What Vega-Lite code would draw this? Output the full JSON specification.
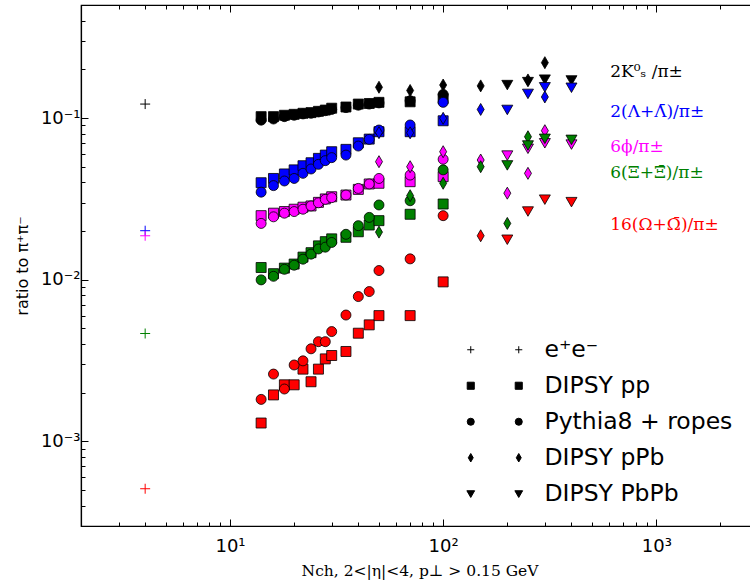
{
  "$schema": "https://vega.github.io/schema/vega-lite/v6.json",
  "width": 677,
  "height": 521,
  "autosize": {"type": "none"},
  "padding": {"left": 81, "top": 5, "right": 0, "bottom": 57},
  "background": "white",
  "config": {"view": {"stroke": "black", "strokeWidth": 1.2}, "font": "DejaVu Sans"},
  "datasets": {
    "pts": [
      {"N":4,"r":0.122,"set":"ee","sp":"K"},
      {"N":4,"r":0.0201,"set":"ee","sp":"L"},
      {"N":4,"r":0.0187,"set":"ee","sp":"phi"},
      {"N":4,"r":0.00465,"set":"ee","sp":"Xi"},
      {"N":4,"r":0.00051,"set":"ee","sp":"Om"},

      {"N":14,"r":0.102,"set":"pp","sp":"K"},{"N":16,"r":0.102,"set":"pp","sp":"K"},{"N":18,"r":0.104,"set":"pp","sp":"K"},{"N":20,"r":0.1054,"set":"pp","sp":"K"},{"N":22,"r":0.107,"set":"pp","sp":"K"},{"N":24,"r":0.108,"set":"pp","sp":"K"},{"N":26,"r":0.110,"set":"pp","sp":"K"},{"N":28,"r":0.112,"set":"pp","sp":"K"},{"N":30,"r":0.115,"set":"pp","sp":"K"},{"N":35,"r":0.117,"set":"pp","sp":"K"},{"N":40,"r":0.122,"set":"pp","sp":"K"},{"N":45,"r":0.123,"set":"pp","sp":"K"},{"N":50,"r":0.125,"set":"pp","sp":"K"},{"N":70,"r":0.126,"set":"pp","sp":"K"},{"N":100,"r":0.132,"set":"pp","sp":"K"},
      {"N":14,"r":0.097,"set":"rope","sp":"K"},{"N":16,"r":0.0986,"set":"rope","sp":"K"},{"N":18,"r":0.102,"set":"rope","sp":"K"},{"N":20,"r":0.104,"set":"rope","sp":"K"},{"N":22,"r":0.106,"set":"rope","sp":"K"},{"N":24,"r":0.107,"set":"rope","sp":"K"},{"N":26,"r":0.109,"set":"rope","sp":"K"},{"N":28,"r":0.111,"set":"rope","sp":"K"},{"N":30,"r":0.113,"set":"rope","sp":"K"},{"N":35,"r":0.116,"set":"rope","sp":"K"},{"N":40,"r":0.120,"set":"rope","sp":"K"},{"N":45,"r":0.122,"set":"rope","sp":"K"},{"N":50,"r":0.124,"set":"rope","sp":"K"},{"N":70,"r":0.128,"set":"rope","sp":"K"},{"N":100,"r":0.140,"set":"rope","sp":"K"},
      {"N":50,"r":0.155,"set":"pPb","sp":"K"},{"N":70,"r":0.148,"set":"pPb","sp":"K"},{"N":100,"r":0.160,"set":"pPb","sp":"K"},{"N":150,"r":0.158,"set":"pPb","sp":"K"},{"N":250,"r":0.172,"set":"pPb","sp":"K"},{"N":300,"r":0.220,"set":"pPb","sp":"K"},
      {"N":200,"r":0.161,"set":"PbPb","sp":"K"},{"N":250,"r":0.168,"set":"PbPb","sp":"K"},{"N":300,"r":0.174,"set":"PbPb","sp":"K"},{"N":400,"r":0.172,"set":"PbPb","sp":"K"},

      {"N":14,"r":0.0398,"set":"pp","sp":"L"},{"N":16,"r":0.0423,"set":"pp","sp":"L"},{"N":18,"r":0.0451,"set":"pp","sp":"L"},{"N":20,"r":0.0478,"set":"pp","sp":"L"},{"N":22,"r":0.0507,"set":"pp","sp":"L"},{"N":24,"r":0.0529,"set":"pp","sp":"L"},{"N":26,"r":0.0563,"set":"pp","sp":"L"},{"N":28,"r":0.0590,"set":"pp","sp":"L"},{"N":30,"r":0.0619,"set":"pp","sp":"L"},{"N":35,"r":0.0640,"set":"pp","sp":"L"},{"N":40,"r":0.0703,"set":"pp","sp":"L"},{"N":45,"r":0.0741,"set":"pp","sp":"L"},{"N":50,"r":0.0823,"set":"pp","sp":"L"},{"N":70,"r":0.0823,"set":"pp","sp":"L"},{"N":100,"r":0.0962,"set":"pp","sp":"L"},
      {"N":14,"r":0.0348,"set":"rope","sp":"L"},{"N":16,"r":0.0382,"set":"rope","sp":"L"},{"N":18,"r":0.0408,"set":"rope","sp":"L"},{"N":20,"r":0.0423,"set":"rope","sp":"L"},{"N":22,"r":0.0455,"set":"rope","sp":"L"},{"N":24,"r":0.0484,"set":"rope","sp":"L"},{"N":26,"r":0.0517,"set":"rope","sp":"L"},{"N":28,"r":0.0545,"set":"rope","sp":"L"},{"N":30,"r":0.0569,"set":"rope","sp":"L"},{"N":35,"r":0.0590,"set":"rope","sp":"L"},{"N":40,"r":0.0671,"set":"rope","sp":"L"},{"N":45,"r":0.0738,"set":"rope","sp":"L"},{"N":50,"r":0.0843,"set":"rope","sp":"L"},{"N":70,"r":0.0906,"set":"rope","sp":"L"},{"N":100,"r":0.125,"set":"rope","sp":"L"},
      {"N":50,"r":0.0812,"set":"pPb","sp":"L"},{"N":70,"r":0.081,"set":"pPb","sp":"L"},{"N":100,"r":0.0996,"set":"pPb","sp":"L"},{"N":150,"r":0.113,"set":"pPb","sp":"L"},{"N":300,"r":0.135,"set":"pPb","sp":"L"},
      {"N":200,"r":0.113,"set":"PbPb","sp":"L"},{"N":250,"r":0.142,"set":"PbPb","sp":"L"},{"N":300,"r":0.156,"set":"PbPb","sp":"L"},{"N":400,"r":0.155,"set":"PbPb","sp":"L"},

      {"N":14,"r":0.0249,"set":"pp","sp":"phi"},{"N":16,"r":0.0258,"set":"pp","sp":"phi"},{"N":18,"r":0.0264,"set":"pp","sp":"phi"},{"N":20,"r":0.0273,"set":"pp","sp":"phi"},{"N":22,"r":0.0281,"set":"pp","sp":"phi"},{"N":24,"r":0.0286,"set":"pp","sp":"phi"},{"N":26,"r":0.0301,"set":"pp","sp":"phi"},{"N":28,"r":0.0316,"set":"pp","sp":"phi"},{"N":30,"r":0.0326,"set":"pp","sp":"phi"},{"N":35,"r":0.0334,"set":"pp","sp":"phi"},{"N":40,"r":0.0362,"set":"pp","sp":"phi"},{"N":45,"r":0.0391,"set":"pp","sp":"phi"},{"N":50,"r":0.0395,"set":"pp","sp":"phi"},{"N":70,"r":0.0404,"set":"pp","sp":"phi"},{"N":100,"r":0.0434,"set":"pp","sp":"phi"},
      {"N":14,"r":0.0223,"set":"rope","sp":"phi"},{"N":16,"r":0.0245,"set":"rope","sp":"phi"},{"N":18,"r":0.0258,"set":"rope","sp":"phi"},{"N":20,"r":0.0264,"set":"rope","sp":"phi"},{"N":22,"r":0.0273,"set":"rope","sp":"phi"},{"N":24,"r":0.0286,"set":"rope","sp":"phi"},{"N":26,"r":0.0299,"set":"rope","sp":"phi"},{"N":28,"r":0.0314,"set":"rope","sp":"phi"},{"N":30,"r":0.0322,"set":"rope","sp":"phi"},{"N":35,"r":0.0334,"set":"rope","sp":"phi"},{"N":40,"r":0.0367,"set":"rope","sp":"phi"},{"N":45,"r":0.0391,"set":"rope","sp":"phi"},{"N":50,"r":0.0423,"set":"rope","sp":"phi"},{"N":70,"r":0.0444,"set":"rope","sp":"phi"},{"N":100,"r":0.0556,"set":"rope","sp":"phi"},
      {"N":50,"r":0.0537,"set":"pPb","sp":"phi"},{"N":70,"r":0.050,"set":"pPb","sp":"phi"},{"N":100,"r":0.0619,"set":"pPb","sp":"phi"},{"N":150,"r":0.055,"set":"pPb","sp":"phi"},{"N":200,"r":0.0343,"set":"pPb","sp":"phi"},{"N":250,"r":0.0455,"set":"pPb","sp":"phi"},{"N":300,"r":0.0835,"set":"pPb","sp":"phi"},
      {"N":200,"r":0.059,"set":"PbPb","sp":"phi"},{"N":250,"r":0.065,"set":"PbPb","sp":"phi"},{"N":300,"r":0.0703,"set":"PbPb","sp":"phi"},{"N":400,"r":0.069,"set":"PbPb","sp":"phi"},

      {"N":14,"r":0.0119,"set":"pp","sp":"Xi"},{"N":16,"r":0.0109,"set":"pp","sp":"Xi"},{"N":18,"r":0.0118,"set":"pp","sp":"Xi"},{"N":20,"r":0.0125,"set":"pp","sp":"Xi"},{"N":22,"r":0.0138,"set":"pp","sp":"Xi"},{"N":24,"r":0.0147,"set":"pp","sp":"Xi"},{"N":26,"r":0.0162,"set":"pp","sp":"Xi"},{"N":28,"r":0.0172,"set":"pp","sp":"Xi"},{"N":30,"r":0.0179,"set":"pp","sp":"Xi"},{"N":35,"r":0.0183,"set":"pp","sp":"Xi"},{"N":40,"r":0.0198,"set":"pp","sp":"Xi"},{"N":45,"r":0.0218,"set":"pp","sp":"Xi"},{"N":50,"r":0.0232,"set":"pp","sp":"Xi"},{"N":70,"r":0.0254,"set":"pp","sp":"Xi"},{"N":100,"r":0.0294,"set":"pp","sp":"Xi"},
      {"N":14,"r":0.00998,"set":"rope","sp":"Xi"},{"N":16,"r":0.0105,"set":"rope","sp":"Xi"},{"N":18,"r":0.0116,"set":"rope","sp":"Xi"},{"N":20,"r":0.0123,"set":"rope","sp":"Xi"},{"N":22,"r":0.0134,"set":"rope","sp":"Xi"},{"N":24,"r":0.0144,"set":"rope","sp":"Xi"},{"N":26,"r":0.0155,"set":"rope","sp":"Xi"},{"N":28,"r":0.0159,"set":"rope","sp":"Xi"},{"N":30,"r":0.0170,"set":"rope","sp":"Xi"},{"N":35,"r":0.0191,"set":"rope","sp":"Xi"},{"N":40,"r":0.0216,"set":"rope","sp":"Xi"},{"N":45,"r":0.0243,"set":"rope","sp":"Xi"},{"N":50,"r":0.029,"set":"rope","sp":"Xi"},{"N":70,"r":0.0308,"set":"rope","sp":"Xi"},{"N":100,"r":0.0478,"set":"rope","sp":"Xi"},
      {"N":50,"r":0.0197,"set":"pPb","sp":"Xi"},{"N":70,"r":0.0331,"set":"pPb","sp":"Xi"},{"N":100,"r":0.0395,"set":"pPb","sp":"Xi"},{"N":150,"r":0.050,"set":"pPb","sp":"Xi"},{"N":200,"r":0.0223,"set":"pPb","sp":"Xi"},{"N":250,"r":0.0766,"set":"pPb","sp":"Xi"},
      {"N":200,"r":0.0513,"set":"PbPb","sp":"Xi"},{"N":250,"r":0.0681,"set":"PbPb","sp":"Xi"},{"N":300,"r":0.0749,"set":"PbPb","sp":"Xi"},{"N":400,"r":0.0738,"set":"PbPb","sp":"Xi"},

      {"N":14,"r":0.0013,"set":"pp","sp":"Om"},{"N":16,"r":0.00194,"set":"pp","sp":"Om"},{"N":18,"r":0.00224,"set":"pp","sp":"Om"},{"N":20,"r":0.00224,"set":"pp","sp":"Om"},{"N":22,"r":0.0028,"set":"pp","sp":"Om"},{"N":24,"r":0.00234,"set":"pp","sp":"Om"},{"N":26,"r":0.0028,"set":"pp","sp":"Om"},{"N":28,"r":0.00324,"set":"pp","sp":"Om"},{"N":30,"r":0.0034,"set":"pp","sp":"Om"},{"N":35,"r":0.0036,"set":"pp","sp":"Om"},{"N":40,"r":0.00467,"set":"pp","sp":"Om"},{"N":45,"r":0.00526,"set":"pp","sp":"Om"},{"N":50,"r":0.006,"set":"pp","sp":"Om"},{"N":70,"r":0.006,"set":"pp","sp":"Om"},{"N":100,"r":0.0097,"set":"pp","sp":"Om"},
      {"N":14,"r":0.00182,"set":"rope","sp":"Om"},{"N":16,"r":0.00261,"set":"rope","sp":"Om"},{"N":18,"r":0.00211,"set":"rope","sp":"Om"},{"N":20,"r":0.00297,"set":"rope","sp":"Om"},{"N":22,"r":0.00315,"set":"rope","sp":"Om"},{"N":24,"r":0.00374,"set":"rope","sp":"Om"},{"N":26,"r":0.00414,"set":"rope","sp":"Om"},{"N":28,"r":0.00414,"set":"rope","sp":"Om"},{"N":30,"r":0.00478,"set":"rope","sp":"Om"},{"N":35,"r":0.00605,"set":"rope","sp":"Om"},{"N":40,"r":0.00787,"set":"rope","sp":"Om"},{"N":45,"r":0.00845,"set":"rope","sp":"Om"},{"N":50,"r":0.0114,"set":"rope","sp":"Om"},{"N":70,"r":0.01346,"set":"rope","sp":"Om"},{"N":100,"r":0.0249,"set":"rope","sp":"Om"},
      {"N":150,"r":0.0187,"set":"pPb","sp":"Om"},
      {"N":200,"r":0.0178,"set":"PbPb","sp":"Om"},{"N":250,"r":0.0266,"set":"PbPb","sp":"Om"},{"N":300,"r":0.0315,"set":"PbPb","sp":"Om"},{"N":400,"r":0.0304,"set":"PbPb","sp":"Om"}
    ],
    "lab": [
      {"N":608,"r":0.192,"t":"2K⁰ₛ /π±","sp":"K"},
      {"N":608,"r":0.109,"t":"2(Λ+Λ̄)/π±","sp":"L"},
      {"N":608,"r":0.0665,"t":"6ϕ/π±","sp":"phi"},
      {"N":608,"r":0.0455,"t":"6(Ξ+Ξ̄)/π±","sp":"Xi"},
      {"N":608,"r":0.0218,"t":"16(Ω+Ω̄)/π±","sp":"Om"}
    ]
  },
  "layer": [
    {
      "data": {"name": "pts"},
      "transform": [{"filter": "datum.set === 'ee'"}],
      "mark": {"type": "point", "filled": true, "strokeWidth": 1, "size": 100, "opacity": 1},
      "encoding": {
        "x": {"field": "N", "type": "quantitative",
          "scale": {"type": "log", "domain": [2, 3000], "nice": false, "zero": false},
          "axis": {"orient": "bottom", "grid": false, "values": [3,4,5,6,7,8,9,10,20,30,40,50,60,70,80,90,100,200,300,400,500,600,700,800,900,1000,2000],
            "labelExpr": "datum.value == 10 ? '10¹' : datum.value == 100 ? '10²' : datum.value == 1000 ? '10³' : ''",
            "tickSize": {"condition": {"test": "datum.value == 10 || datum.value == 100 || datum.value == 1000", "value": -7}, "value": -4},
            "tickColor": "black", "tickWidth": 1, "domainColor": "black", "domainWidth": 1.2,
            "labelFontSize": 18, "labelColor": "black", "labelFont": "DejaVu Sans", "labelPadding": 18, "labelOverlap": false, "labelFlush": false,
            "title": "Nch, 2<|η|<4, p⊥ > 0.15 GeV", "titleFont": "DejaVu Serif", "titleFontSize": 15.5, "titleFontWeight": "normal", "titleColor": "black", "titlePadding": 5}},
        "y": {"field": "r", "type": "quantitative",
          "scale": {"type": "log", "domain": [0.0003, 0.5], "nice": false, "zero": false},
          "axis": {"orient": "left", "grid": false, "values": [0.0004,0.0005,0.0006,0.0007,0.0008,0.0009,0.001,0.002,0.003,0.004,0.005,0.006,0.007,0.008,0.009,0.01,0.02,0.03,0.04,0.05,0.06,0.07,0.08,0.09,0.1,0.2,0.3,0.4],
            "labelExpr": "datum.value == 0.1 ? '10⁻¹' : datum.value == 0.01 ? '10⁻²' : datum.value == 0.001 ? '10⁻³' : ''",
            "tickSize": {"condition": {"test": "datum.value == 0.1 || datum.value == 0.01 || datum.value == 0.001", "value": -7}, "value": -4},
            "tickColor": "black", "tickWidth": 1, "domainColor": "black", "domainWidth": 1.2,
            "labelFontSize": 18, "labelColor": "black", "labelFont": "DejaVu Sans", "labelPadding": 8, "labelOverlap": false, "labelFlush": false,
            "title": "ratio to π⁺π⁻", "titleFont": "DejaVu Sans", "titleFontSize": 16, "titleFontWeight": "normal", "titleColor": "black", "titlePadding": 10}},
        "shape": {"field": "set", "type": "nominal",
          "scale": {"domain": ["ee","pp","rope","pPb","PbPb"], "range": ["M-1,0H1M0,-1V1", "M-1,-1H1V1H-1Z", "circle", "M0,-1.2L0.7,0L0,1.2L-0.7,0Z", "M-1.1,-0.85L1.1,-0.85L0,1.05Z"]},
          "legend": {"orient": "none", "legendX": 426, "legendY": 333, "title": null, "padding": 0,
            "labelFontSize": 23.5, "labelFont": "DejaVu Sans", "labelColor": "black", "labelLimit": 400, "symbolSize": 50, "rowPadding": 11, "labelOffset": 14,
            "symbolFillColor": "black", "symbolStrokeColor": "black", "symbolStrokeWidth": 1, "symbolOpacity": 1,
            "labelExpr": "datum.value == 'ee' ? 'e⁺e⁻' : datum.value == 'pp' ? 'DIPSY pp' : datum.value == 'rope' ? 'Pythia8 + ropes' : datum.value == 'pPb' ? 'DIPSY pPb' : 'DIPSY PbPb'",
            "encode": {"symbols": {"update": {"fill": {"value": "black"}, "stroke": {"value": "black"}, "strokeWidth": {"value": 1}, "opacity": {"value": 1}}}}}},
        "fill": {"field": "sp", "type": "nominal",
          "scale": {"domain": ["K","L","phi","Xi","Om"], "range": ["#000000","#0000ff","#ff00ff","#008000","#ff0000"]}, "legend": null},
        "stroke": {"field": "sp", "type": "nominal",
          "scale": {"domain": ["K","L","phi","Xi","Om"], "range": ["#000000","#0000ff","#ff00ff","#008000","#ff0000"]}, "legend": null}
      }
    },
    {
      "data": {"name": "pts"},
      "transform": [{"filter": "datum.set !== 'ee'"}],
      "mark": {"type": "point", "filled": true, "stroke": "black", "strokeWidth": 0.8, "size": 100, "opacity": 1},
      "encoding": {
        "x": {"field": "N", "type": "quantitative",
          "scale": {"type": "log", "domain": [2, 3000], "nice": false, "zero": false},
          "axis": {"orient": "top", "grid": false, "labels": false, "title": null, "values": [3,4,5,6,7,8,9,10,20,30,40,50,60,70,80,90,100,200,300,400,500,600,700,800,900,1000,2000],
            "tickSize": {"condition": {"test": "datum.value == 10 || datum.value == 100 || datum.value == 1000", "value": -7}, "value": -4},
            "tickColor": "black", "tickWidth": 1, "domainColor": "black", "domainWidth": 1.2}},
        "y": {"field": "r", "type": "quantitative",
          "scale": {"type": "log", "domain": [0.0003, 0.5], "nice": false, "zero": false},
          "axis": {"orient": "right", "grid": false, "labels": false, "title": null, "values": [0.0004,0.0005,0.0006,0.0007,0.0008,0.0009,0.001,0.002,0.003,0.004,0.005,0.006,0.007,0.008,0.009,0.01,0.02,0.03,0.04,0.05,0.06,0.07,0.08,0.09,0.1,0.2,0.3,0.4],
            "tickSize": {"condition": {"test": "datum.value == 0.1 || datum.value == 0.01 || datum.value == 0.001", "value": -7}, "value": -4},
            "tickColor": "black", "tickWidth": 1, "domainColor": "black", "domainWidth": 1.2}},
        "shape": {"field": "set", "type": "nominal",
          "scale": {"domain": ["ee","pp","rope","pPb","PbPb"], "range": ["M-1,0H1M0,-1V1", "M-1,-1H1V1H-1Z", "circle", "M0,-1.2L0.7,0L0,1.2L-0.7,0Z", "M-1.1,-0.85L1.1,-0.85L0,1.05Z"]},
          "legend": {"orient": "none", "legendX": 378, "legendY": 333, "title": null, "padding": 0,
            "labelFontSize": 23.5, "labelFont": "DejaVu Sans", "labelOpacity": 0, "symbolSize": 50, "rowPadding": 11, "labelOffset": 14,
            "symbolFillColor": "black", "symbolStrokeColor": "black", "symbolStrokeWidth": 1, "symbolOpacity": 1,
            "encode": {"symbols": {"update": {"fill": {"value": "black"}, "stroke": {"value": "black"}, "strokeWidth": {"value": 1}, "opacity": {"value": 1}}}}}},
        "fill": {"field": "sp", "type": "nominal",
          "scale": {"domain": ["K","L","phi","Xi","Om"], "range": ["#000000","#0000ff","#ff00ff","#008000","#ff0000"]}, "legend": null}
      }
    },
    {
      "data": {"name": "lab"},
      "mark": {"type": "text", "align": "left", "baseline": "middle", "font": "DejaVu Serif", "fontSize": 17},
      "encoding": {
        "x": {"field": "N", "type": "quantitative", "scale": {"type": "log", "domain": [2, 3000], "nice": false, "zero": false}, "axis": null},
        "y": {"field": "r", "type": "quantitative", "scale": {"type": "log", "domain": [0.0003, 0.5], "nice": false, "zero": false}, "axis": null},
        "text": {"field": "t"},
        "color": {"field": "sp", "type": "nominal",
          "scale": {"domain": ["K","L","phi","Xi","Om"], "range": ["#000000","#0000ff","#ff00ff","#008000","#ff0000"]}, "legend": null}
      }
    }
  ],
  "resolve": {"axis": {"x": "independent", "y": "independent"}, "legend": {"shape": "independent"}}
}
